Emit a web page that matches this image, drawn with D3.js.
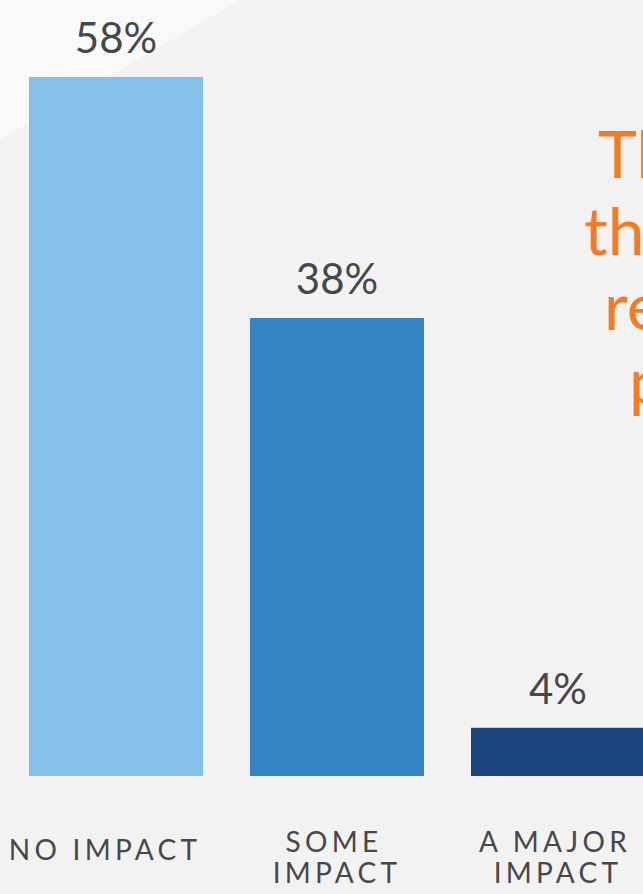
<!DOCTYPE html>
<html>
<head>
<meta charset="utf-8">
<script src="https://cdn.jsdelivr.net/npm/d3@7"></script>
<style>
  html, body { margin: 0; padding: 0; background: #f2f2f2; overflow: hidden; }
  svg { display: block; }
</style>
</head>
<body>
<svg width="643" height="894"></svg>
<script>
let categories = ['NO IMPACT', 'SOME IMPACT', 'A MAJOR IMPACT']
let values = [58, 38, 4]
let labelLines = [['NO IMPACT'], ['SOME', 'IMPACT'], ['A MAJOR', 'IMPACT']]
let colors = ['#84c1ea', '#3583c5', '#1c467d']
let headline = ['Th', 'th', 're', 'p']

let svg = d3.select('svg')
let width = 643
let height = 894

// background and the lighter corner
svg.append('rect').attr('width', width).attr('height', height).attr('fill', '#f2f2f2')
svg.append('path')
    .attr('d', 'M0,0 L240,0 L0,140 Z')
    .attr('fill', '#f9f9f9')

let x = d3.scaleBand()
    .domain(categories)
    .range([29, 645])
    .paddingInner(47 / 221)
    .paddingOuter(0)

let y = d3.scaleLinear()
    .domain([0, 58])
    .range([776, 77])

svg.selectAll('rect.bar')
    .data(categories)
    .enter()
    .append('rect')
    .attr('class', 'bar')
    .attr('x', d => x(d))
    .attr('y', (d, i) => y(values[i]))
    .attr('width', x.bandwidth())
    .attr('height', (d, i) => y(0) - y(values[i]))
    .attr('fill', (d, i) => colors[i])

svg.selectAll('text.value')
    .data(categories)
    .enter()
    .append('text')
    .attr('class', 'value')
    .attr('x', d => x(d) + x.bandwidth() / 2)
    .attr('y', (d, i) => y(values[i]) - 24)
    .attr('text-anchor', 'middle')
    .attr('font-family', 'Lato, sans-serif')
    .attr('font-size', 42)
    .attr('fill', '#474747')
    .text((d, i) => values[i] + '%')

let catText = svg.selectAll('text.cat')
    .data(categories)
    .enter()
    .append('text')
    .attr('class', 'cat')
    .attr('text-anchor', 'middle')
    .attr('font-family', 'Lato, sans-serif')
    .attr('font-size', 28)
    .attr('letter-spacing', 4.3)
    .attr('fill', '#474747')

catText.each(function (d, i) {
    let lines = labelLines[i]
    let top = lines.length === 1 ? 860 : 852
    let shift = lines.length === 1 ? -8 : 0
    d3.select(this).selectAll('tspan')
        .data(lines)
        .enter()
        .append('tspan')
        .attr('x', (l, j) => x(d) + x.bandwidth() / 2 - 3 + shift + (lines.length > 1 && j === 1 ? 3 : 0))
        .attr('y', (l, j) => top + j * 31)
        .text(l => l)
})

// orange headline, cut off by the right edge
let headX = [598, 584, 604, 629]
let headY = [178, 255, 330, 405]
svg.selectAll('text.head')
    .data(headline)
    .enter()
    .append('text')
    .attr('class', 'head')
    .attr('x', (d, i) => headX[i])
    .attr('y', (d, i) => headY[i])
    .attr('font-family', 'Lato, sans-serif')
    .attr('font-size', 66)
    .attr('fill', '#f47b20')
    .text(d => d)
</script>
</body>
</html>
